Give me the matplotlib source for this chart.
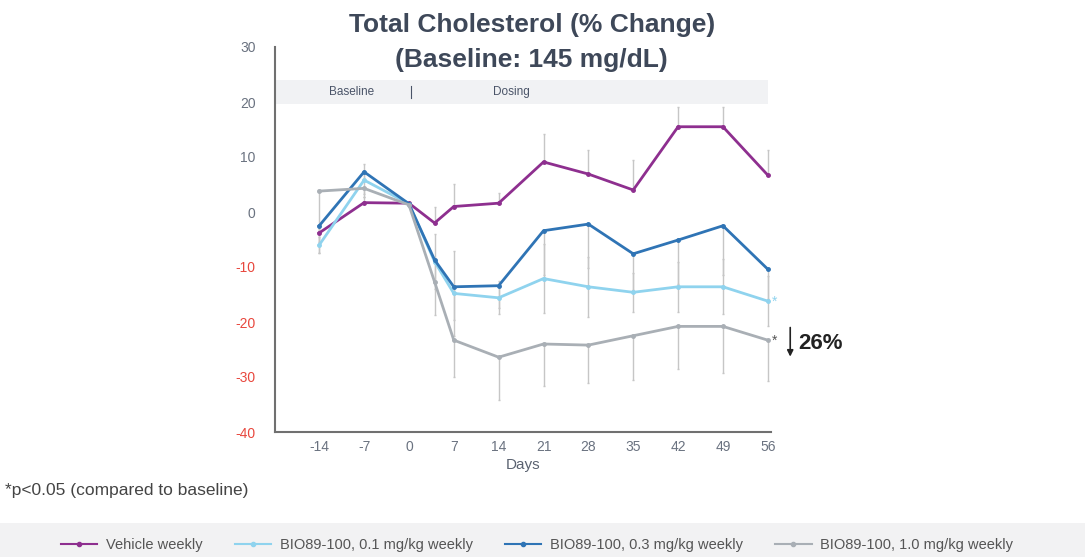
import matplotlib.pyplot as plt
from matplotlib.patches import Rectangle
from matplotlib.lines import Line2D

plt.rcParams['font.family'] = ['Liberation Sans', 'DejaVu Sans']
plt.rcParams['axes.unicode_minus'] = False

# days and % change values
days = [-14, -7, 0, 4, 7, 14, 21, 28, 35, 42, 49, 56]
vehicle = [-3.8, 1.7, 1.6, -2.0, 1.0, 1.6, 9.1, 6.9, 4.0, 15.5, 15.5, 6.7]
dose_01 = [-6.0, 5.8, 1.5, -9.0, -14.8, -15.6, -12.1, -13.6, -14.6, -13.6, -13.6, -16.2]
dose_03 = [-2.5, 7.3, 1.5, -8.7, -13.6, -13.4, -3.4, -2.2, -7.6, -5.1, -2.5, -10.4]
dose_10 = [3.8, 4.3, 1.3, -12.7, -23.3, -26.4, -24.0, -24.2, -22.5, -20.8, -20.8, -23.3]

# one-sided error bars (vehicle up, treatments mostly down)
err_vehicle = [1.0, 1.0, 0.3, 3.0, 4.1, 1.9, 5.1, 4.4, 5.5, 3.6, 3.6, 4.6]
err_01 = [1.5, 3.0, 0.3, 5.0, 7.8, 3.0, 6.3, 5.5, 3.5, 4.5, 5.0, 4.5]
err_03 = [3.0, 1.5, 0.3, 4.0, 6.0, 4.0, 8.0, 8.0, 6.5, 8.0, 9.0, 5.5]
err_10 = [11.3, 1.0, 0.3, 6.0, 6.7, 7.8, 7.6, 6.9, 8.0, 7.7, 8.4, 7.5]

xticks = [-14, -7, 0, 7, 14, 21, 28, 35, 42, 49, 56]
yticks = [30, 20, 10, 0, -10, -20, -30, -40]

names = ['Vehicle weekly', 'BIO89-100, 0.1 mg/kg weekly',
         'BIO89-100, 0.3 mg/kg weekly', 'BIO89-100, 1.0 mg/kg weekly']
colors = ['#8e2f8f', '#8fd3ee', '#2f74b5', '#a9afb5']

fig = plt.figure(figsize=(10.85, 5.57), dpi=100)
ax = fig.add_axes([275/1085, 1 - 432/557, 496/1085, 385/557])

errcol = '#c6c6c6'
zeros = [0] * len(days)
ax.errorbar(days, vehicle, yerr=[zeros, err_vehicle], fmt='none',
            ecolor=errcol, elinewidth=1, capsize=1, zorder=1)
ax.errorbar(days, dose_01, yerr=[err_01, err_01], fmt='none',
            ecolor=errcol, elinewidth=1, capsize=1, zorder=1)
ax.errorbar(days, dose_03, yerr=[err_03, zeros], fmt='none',
            ecolor=errcol, elinewidth=1, capsize=1, zorder=1)
ax.errorbar(days, dose_10, yerr=[err_10, zeros], fmt='none',
            ecolor=errcol, elinewidth=1, capsize=1, zorder=1)

series = [vehicle, dose_01, dose_03, dose_10]
for i in [3, 1, 2, 0]:
    ax.plot(days, series[i], color=colors[i], lw=2, marker='o', ms=2.5, zorder=3 + i)

# baseline / dosing band
ax.add_patch(Rectangle((-20.9, 19.7), 77.0, 4.3, color='#f1f2f4', lw=0, zorder=0))
ax.text(-9, 21.9, 'Baseline', fontsize=8.5, color='#4a5468', ha='center', va='center')
ax.text(16, 21.9, 'Dosing', fontsize=8.5, color='#4a5468', ha='center', va='center')
ax.plot([0.3, 0.3], [20.8, 23.0], color='#4a5468', lw=0.8)

ax.set_xlim(-20.9, 56.5)
ax.set_ylim(-40, 30)
ax.set_xticks(xticks)
ax.set_yticks(yticks)
ax.tick_params(length=0, labelsize=10, colors='#6a7280', pad=6)
ax.tick_params(axis='y', pad=14)
for lab, v in zip(ax.get_yticklabels(), yticks):
    if v < 0:
        lab.set_color('#e8473d')
ax.set_xlabel('Days', fontsize=11, color='#5a6270', labelpad=3)
for s in ['top', 'right']:
    ax.spines[s].set_visible(False)
for s in ['left', 'bottom']:
    ax.spines[s].set_color('#707070')
    ax.spines[s].set_linewidth(1.5)

# significance marks
ax.text(56.6, dose_01[-1] - 0.1, '*', color=colors[1], fontsize=10, va='center', ha='left')
ax.text(56.6, dose_10[-1] - 0.1, '*', color='#555555', fontsize=10, va='center', ha='left')
ax.annotate('', xy=(59.5, dose_10[-1] - 3.5), xytext=(59.5, dose_10[-1] + 2.8),
            arrowprops=dict(arrowstyle='-|>', color='#222222', lw=1.2, mutation_scale=9),
            annotation_clip=False)
ax.text(60.8, dose_10[-1] - 0.6, '26%', fontsize=16, fontweight='bold',
        color='#222222', va='center', ha='left')

fig.text(0.49, 0.955, 'Total Cholesterol (% Change)', fontsize=19, fontweight='bold',
         color='#3e4859', ha='center', va='center')
fig.text(0.49, 0.893, '(Baseline: 145 mg/dL)', fontsize=19, fontweight='bold',
         color='#3e4859', ha='center', va='center')

fig.text(0.005, 1 - 490/557, '*p<0.05 (compared to baseline)', fontsize=12.5,
         color='#444444', va='center')

# legend band
fig.patches.append(Rectangle((0, 0), 1, 34/557, transform=fig.transFigure,
                             color='#f2f2f3', lw=0, zorder=0))
handles = [Line2D([], [], color=c, lw=1.5, marker='o', ms=3) for c in colors]
fig.legend(handles, names, loc='center', bbox_to_anchor=(0.495, 1 - 545/557), ncol=4,
           frameon=False, fontsize=10.5, labelcolor='#555555', handlelength=2.5,
           columnspacing=2.2, handletextpad=0.6)

fig.savefig('out.png', dpi=100)
